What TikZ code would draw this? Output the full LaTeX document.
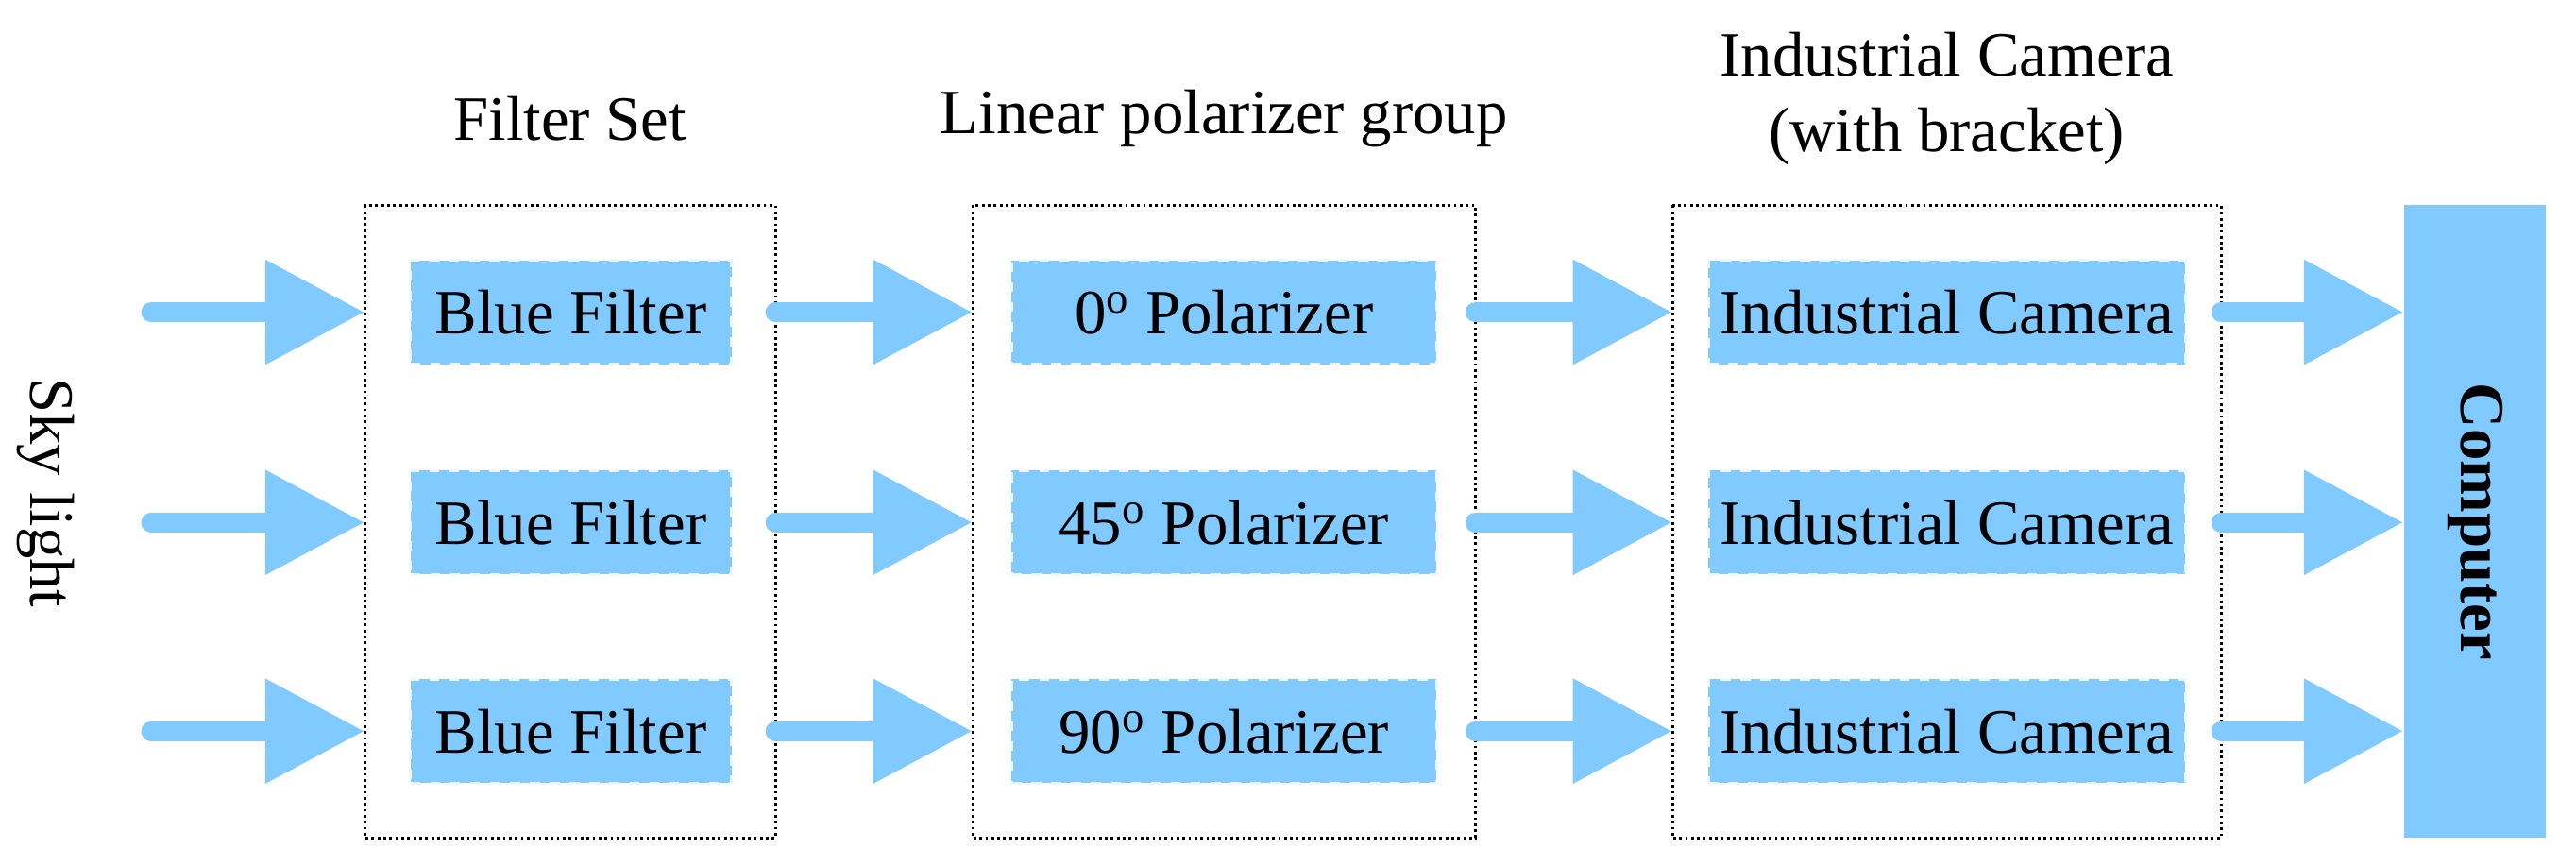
\documentclass[tikz,border=0pt]{standalone}
\usepackage{fontspec}
\setmainfont{Liberation Serif}
\usetikzlibrary{positioning, arrows.meta}
\definecolor{lightsky}{RGB}{128,202,255}
\begin{document}
\begin{tikzpicture}[x=0.0174cm, y=-0.0174cm, font=\fontsize{19}{23}\selectfont]
    \tikzset{
        group/.style = {draw = black, densely dotted, thick},
        part/.style = {fill = lightsky, draw = white!85!lightsky, dashed, thick, minimum height = 1.1cm},
        flow/.style = {draw = lightsky, line width = 6pt, line cap = round,
            -{Triangle[length=30pt, width=30pt]}}
    }
    \useasboundingbox (0,0) rectangle (1568,526);
    \node[rotate=-90] (sky) at (28,300) {Sky light};
    % dotted groups
    \draw[group] (222,125) rectangle (472,510);
    \draw[group] (592,125) rectangle (898,510);
    \draw[group] (1018,125) rectangle (1352,510);
    \node (t1) at (347,72) {Filter Set};
    \node (t2) at (745,72) {Linear polarizer group};
    \node[align=center] (t3) at (1185,60) {Industrial Camera\\(with bracket)};
    \node[fill=lightsky, minimum width=6.7cm, minimum height=1.5cm, rotate=-90, font=\fontsize{19}{23}\selectfont\bfseries] (pc) at (1506.5,317.5) {Computer};
    \foreach \y/\deg/\n in {190/0/1, 318/45/2, 445/90/3} {
        \coordinate (s\n) at (92,\y);
        \node[part, minimum width=3.4cm] (f\n) at (347.5,\y) {Blue Filter};
        \node[part, minimum width=4.5cm] (p\n) at (745,\y) {\deg\textsuperscript{o} Polarizer};
        \node[part, minimum width=5.05cm] (c\n) at (1185,\y) {Industrial Camera};
        \coordinate (g\n) at (222,\y);
        \coordinate (h\n) at (472,\y);
        \coordinate (k\n) at (592,\y);
        \coordinate (l\n) at (898,\y);
        \coordinate (m\n) at (1018,\y);
        \coordinate (o\n) at (1352,\y);
        \coordinate (q\n) at (1463,\y);
        \draw[flow] (s\n) -- (g\n);
        \draw[flow] (h\n) -- (k\n);
        \draw[flow] (l\n) -- (m\n);
        \draw[flow] (o\n) -- (q\n);
    }
\end{tikzpicture}
\end{document}
